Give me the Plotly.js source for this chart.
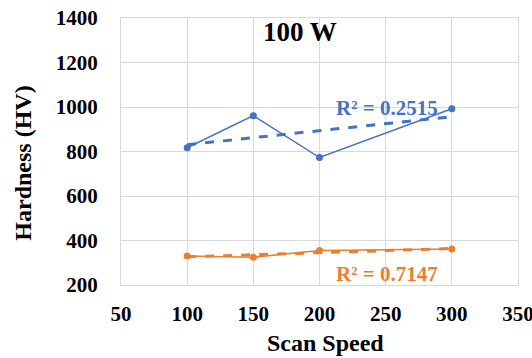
<!DOCTYPE html>
<html><head><meta charset="utf-8">
<script src="https://cdn.plot.ly/plotly-3.0.1.min.js"></script>
<style>html,body{margin:0;padding:0;background:#fff}</style>
</head><body>
<div id="chart" style="width:532px;height:358px"></div>
<script>
var scanSpeed = [100, 150, 200, 300];
var hardnessBlue = [817, 961, 773, 992];
var hardnessOrange = [330, 325, 355, 362];
var r2Blue = "R² = 0.2515";
var r2Orange = "R² = 0.7147";
var xTicks = [50, 100, 150, 200, 250, 300, 350];
var yTicks = [200, 400, 600, 800, 1000, 1200, 1400];

function linfit(x, y) {
  var n = x.length, mx = 0, my = 0;
  for (var i = 0; i < n; i++) { mx += x[i]; my += y[i]; }
  mx /= n; my /= n;
  var sxy = 0, sxx = 0;
  for (var i = 0; i < n; i++) { sxy += (x[i]-mx)*(y[i]-my); sxx += (x[i]-mx)*(x[i]-mx); }
  var b = sxy/sxx, a = my - b*mx;
  return function(v){ return a + b*v; };
}
var blue = '#4472C4', orange = '#ED7D31';
var font = 'Liberation Serif, Times New Roman, serif';
var xEnds = [scanSpeed[0], scanSpeed[scanSpeed.length-1]];
var fb = linfit(scanSpeed, hardnessBlue), fo = linfit(scanSpeed, hardnessOrange);
var traces = [
  {x: xEnds, y: xEnds.map(fb), mode:'lines', line:{color: blue, width: 3, dash:'dash'}},
  {x: scanSpeed, y: hardnessBlue, mode: 'lines+markers', line:{color: blue, width: 1.5}, marker:{color: blue, size: 7}},
  {x: xEnds, y: xEnds.map(fo), mode:'lines', line:{color: orange, width: 3, dash:'dash'}},
  {x: scanSpeed, y: hardnessOrange, mode: 'lines+markers', line:{color: orange, width: 1.5}, marker:{color: orange, size: 7}}
];
var layout = {
  width: 532, height: 358,
  margin: {l: 121, r: 14, t: 18, b: 73},
  showlegend: false,
  paper_bgcolor: '#fff', plot_bgcolor: '#fff',
  font: {family: font, color: '#000', size: 21},
  title: {text: '<b>100 W</b>', font: {family: font, size: 27, color: '#000'}, x: 300/532, xanchor: 'center', xref: 'container', y: 1 - 32/358, yanchor: 'middle', yref: 'container'},
  xaxis: {range: [50, 350], tickvals: xTicks, ticktext: xTicks.map(function(v){return '<b>'+v+'</b>';}),
    showgrid: true, gridcolor: '#d9d9d9', gridwidth: 1, zeroline: false,
    showline: true, linecolor: '#d9d9d9', mirror: true, ticks: '', ticklabelstandoff: 10,
    ticklabeloverflow: 'allow', tickfont: {family: font, size: 21}},
  yaxis: {range: [200, 1400], tickvals: yTicks, ticktext: yTicks.map(function(v){return '<b>'+v+'</b>';}),
    showgrid: true, gridcolor: '#d9d9d9', gridwidth: 1, zeroline: false,
    showline: true, linecolor: '#d9d9d9', mirror: true, ticks: '', ticklabelstandoff: 18,
    ticklabeloverflow: 'allow', tickfont: {family: font, size: 21}},
  annotations: [
    {text: '<b>Scan Speed</b>', x: 0.514, y: -0.216, xref: 'paper', yref: 'paper', xanchor: 'center', yanchor: 'middle', showarrow: false, font: {family: font, size: 24, color: '#000'}},
    {text: '<b>Hardness (HV)</b>', x: -0.247, y: 0.458, xref: 'paper', yref: 'paper', xanchor: 'center', yanchor: 'middle', textangle: -90, showarrow: false, font: {family: font, size: 24, color: '#000'}},
    {text: '<b>' + r2Blue + '</b>', x: 211, y: 997, xref: 'x', yref: 'y', xanchor: 'left', yanchor: 'middle', showarrow: false, font: {family: font, size: 21, color: blue}},
    {text: '<b>' + r2Orange + '</b>', x: 211, y: 249, xref: 'x', yref: 'y', xanchor: 'left', yanchor: 'middle', showarrow: false, font: {family: font, size: 21, color: orange}}
  ]
};
Plotly.newPlot('chart', traces, layout, {displayModeBar: false, staticPlot: true});
</script>
</body></html>
